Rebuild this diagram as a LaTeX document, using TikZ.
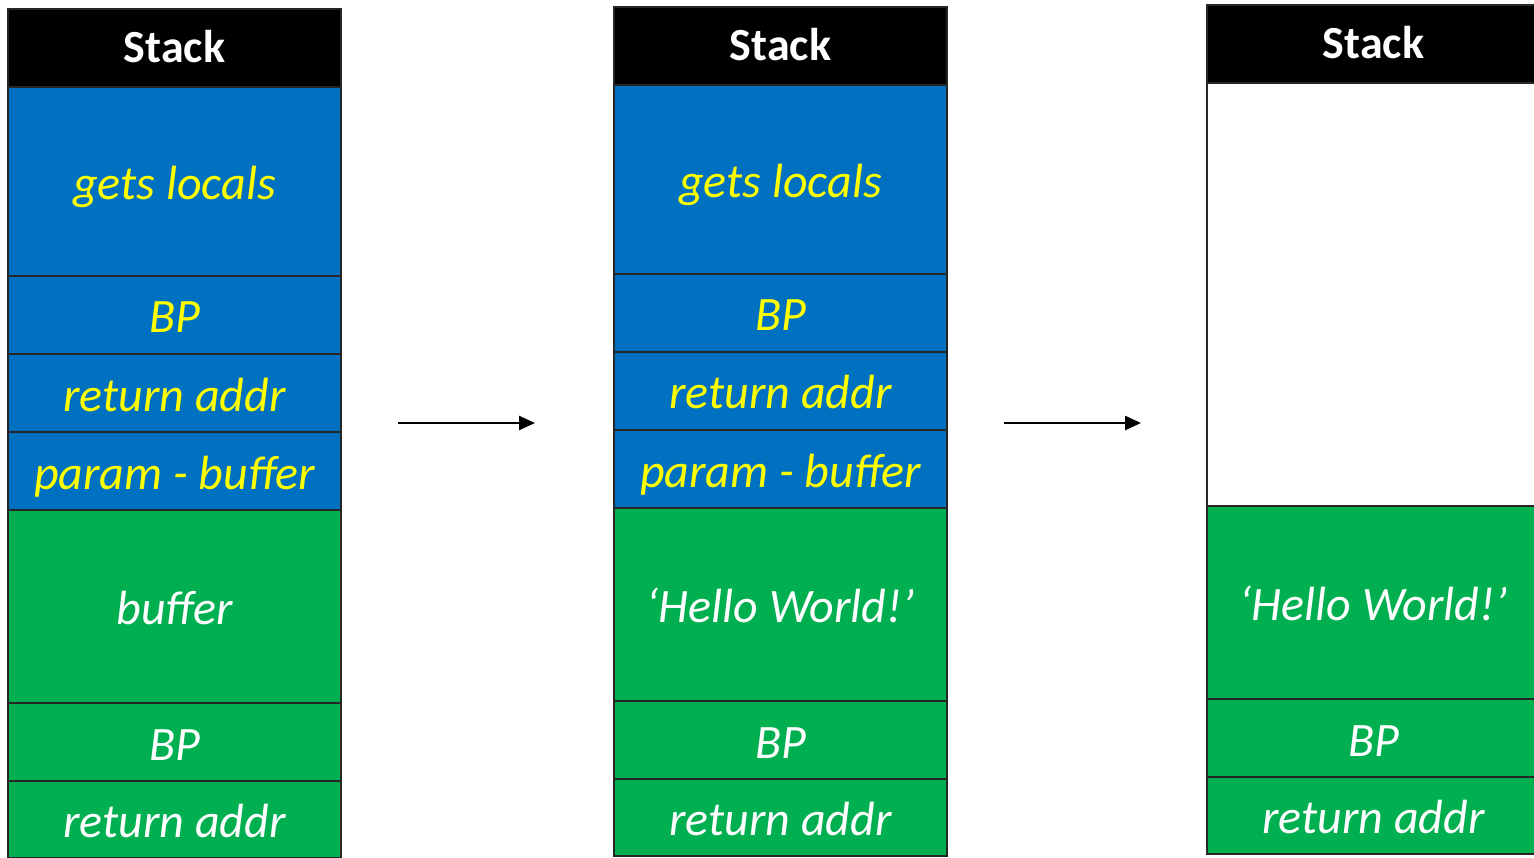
\documentclass[tikz,border=0pt]{standalone}
\usepackage{fontspec}
\setmainfont{Carlito}
\usetikzlibrary{arrows.meta,positioning}
\definecolor{cellblue}{HTML}{0070C0}
\definecolor{cellgreen}{HTML}{00B050}
\definecolor{textyellow}{HTML}{FFFF00}
\tikzset{
  cell/.style={draw=black!85, line width=1.2pt, minimum width=333pt, inner sep=0pt, outer sep=0pt,
    text height=42pt, text depth=6pt, anchor=north west, font=\fontsize{48}{56}\selectfont\itshape},
  header/.style={cell, fill=black, text=white, minimum height=78pt, text height=40pt, text depth=10pt,
    font=\fontsize{46}{56}\selectfont\bfseries},
  bluecell/.style={cell, fill=cellblue, text=textyellow},
  greencell/.style={cell, fill=cellgreen, text=white},
  emptycell/.style={cell, fill=white},
  flow/.style={-{Triangle[length=16pt,width=14pt]}, line width=2.5pt}
}
\begin{document}
\begin{tikzpicture}[x=1pt,y=-1pt]
  \useasboundingbox (0,0) rectangle (1534,858);
  % stack before the call
  \node[header] (s1head) at (8,9) {Stack};
  \node[bluecell, minimum height=189pt, below=0pt of s1head] (s1locals) {gets locals};
  \node[bluecell, minimum height=78pt, below=0pt of s1locals] (s1bp) {BP};
  \node[bluecell, minimum height=78pt, below=0pt of s1bp] (s1ret) {return addr};
  \node[bluecell, minimum height=78pt, below=0pt of s1ret] (s1param) {param - buffer};
  \node[greencell, minimum height=193pt, below=0pt of s1param] (s1buf) {buffer};
  \node[greencell, minimum height=78pt, below=0pt of s1buf] (s1mainbp) {BP};
  \node[greencell, minimum height=77pt, below=0pt of s1mainbp] (s1mainret) {return addr};
  % stack after gets
  \node[header] (s2head) at (614,7) {Stack};
  \node[bluecell, minimum height=189pt, below=0pt of s2head] (s2locals) {gets locals};
  \node[bluecell, minimum height=78pt, below=0pt of s2locals] (s2bp) {BP};
  \node[bluecell, minimum height=78pt, below=0pt of s2bp] (s2ret) {return addr};
  \node[bluecell, minimum height=78pt, below=0pt of s2ret] (s2param) {param - buffer};
  \node[greencell, minimum height=193pt, below=0pt of s2param] (s2buf) {‘Hello World!’};
  \node[greencell, minimum height=78pt, below=0pt of s2buf] (s2mainbp) {BP};
  \node[greencell, minimum height=77pt, below=0pt of s2mainbp] (s2mainret) {return addr};
  % stack after return
  \node[header] (s3head) at (1207,5) {Stack};
  \node[emptycell, minimum height=423pt, below=0pt of s3head] (s3free) {};
  \node[greencell, minimum height=193pt, below=0pt of s3free] (s3buf) {‘Hello World!’};
  \node[greencell, minimum height=78pt, below=0pt of s3buf] (s3mainbp) {BP};
  \node[greencell, minimum height=77pt, below=0pt of s3mainbp] (s3mainret) {return addr};
  % arrows
  \coordinate (a1start) at (398,423);
  \coordinate (a1end) at (535,423);
  \coordinate (a2start) at (1004,423);
  \coordinate (a2end) at (1141,423);
  \draw[flow] (a1start) -- (a1end);
  \draw[flow] (a2start) -- (a2end);
\end{tikzpicture}
\end{document}
